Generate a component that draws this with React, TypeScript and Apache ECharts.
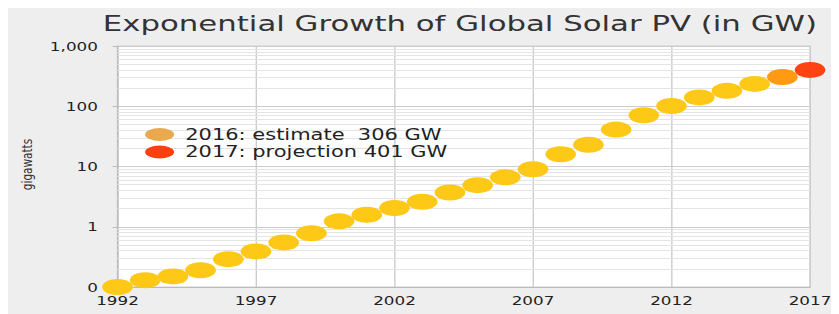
import React, { useEffect, useRef } from "react";
import * as echarts from "echarts";

// ---- data ----
const years = [
  "1992", "1993", "1994", "1995", "1996", "1997", "1998", "1999", "2000",
  "2001", "2002", "2003", "2004", "2005", "2006", "2007", "2008", "2009",
  "2010", "2011", "2012", "2013", "2014", "2015", "2016", "2017",
];
const installedGW = [
  0.1, 0.13, 0.15, 0.19, 0.29, 0.39, 0.55, 0.78, 1.23, 1.58, 2.05, 2.6, 3.7,
  4.9, 6.6, 9.0, 16, 23, 41, 71, 101, 140, 180, 235,
];
const estimateYear = "2016";
const estimateGW = 306;
const projectionYear = "2017";
const projectionGW = 401;
const minorGridValues = [
  0.2, 0.3, 0.4, 0.5, 0.6, 0.7, 0.8, 0.9,
  2, 3, 4, 5, 6, 7, 8, 9,
  20, 30, 40, 50, 60, 70, 80, 90,
  200, 300, 400, 500, 600, 700, 800, 900,
];
const titleText = "Exponential Growth of Global Solar PV (in GW)";
const yAxisName = "gigawatts";
const estimateLabel = "2016: estimate  306 GW";
const projectionLabel = "2017: projection 401 GW";

// ---- layout (chart is drawn narrow and stretched horizontally, like the reference) ----
const W = 594;
const H = 306;
const SX = 831 / W;
const FONT = "DejaVu Sans";
const ELLIPSE = "path://M0,5a10,5 0 1,0 20,0a10,5 0 1,0 -20,0z";

export default function App() {
  const ref = useRef<HTMLDivElement>(null);

  useEffect(() => {
    if (!ref.current) return;
    const chart = echarts.init(ref.current, undefined, { renderer: "svg" });
    chart.setOption({
      animation: false,
      backgroundColor: "#eeeeee",
      graphic: [
        {
          type: "text",
          x: 323,
          y: 15,
          style: {
            text: titleText,
            fontSize: 22,
            fontFamily: FONT,
            fill: "#333",
            textAlign: "center",
            textVerticalAlign: "middle",
            align: "center",
            verticalAlign: "middle",
          },
        },
      ],
      grid: {
        left: 71.5,
        right: 20.7,
        top: 38,
        bottom: 27,
        show: true,
        backgroundColor: "#ffffff",
        borderColor: "#cfcfcf",
        borderWidth: 1,
      },
      legend: {
        orient: "vertical",
        left: 93,
        top: 114,
        itemWidth: 20.7,
        itemHeight: 13,
        itemGap: 2.5,
        symbolKeepAspect: false,
        textStyle: {
          fontSize: 15,
          fontFamily: FONT,
          color: "#222",
          padding: [0, 0, 0, 3],
        },
        data: [
          { name: estimateLabel, icon: ELLIPSE, itemStyle: { color: "#eaa94e" } },
          { name: projectionLabel, icon: ELLIPSE, itemStyle: { color: "#ff3f0f" } },
        ],
      },
      xAxis: {
        type: "category",
        data: years,
        boundaryGap: false,
        axisLine: { show: true, lineStyle: { color: "#bbbbbb" } },
        axisTick: { show: false },
        axisLabel: {
          interval: 4,
          fontSize: 12,
          fontFamily: FONT,
          color: "#222",
          margin: 7,
        },
        splitLine: { show: true, interval: 4, lineStyle: { color: "#cccccc" } },
      },
      yAxis: {
        type: "log",
        logBase: 10,
        min: 0.1,
        max: 1000,
        name: yAxisName,
        nameLocation: "middle",
        nameGap: 57,
        nameTextStyle: {
          fontSize: 10.5,
          fontFamily: FONT,
          color: "#333",
          padding: [0, 0, 0, 4],
        },
        axisLine: { show: true, lineStyle: { color: "#bbbbbb" } },
        axisTick: { show: true, length: 3.5, lineStyle: { color: "#bbbbbb" } },
        axisLabel: {
          fontSize: 12,
          fontFamily: FONT,
          color: "#222",
          margin: 14,
          formatter: (v: number) =>
            v < 1 ? "0" : Math.round(v).toLocaleString("en-US"),
        },
        splitLine: { show: true, lineStyle: { color: "#cccccc" } },
      },
      series: [
        {
          name: "minor-grid",
          type: "line",
          data: [],
          z: 1,
          zlevel: 0,
          silent: true,
          markLine: {
            z: 1,
            silent: true,
            symbol: ["none", "none"],
            label: { show: false },
            lineStyle: { color: "#e4e4e4", type: "solid", width: 1 },
            data: minorGridValues.map((v) => ({ yAxis: v })),
          },
        },
        {
          name: "installed",
          type: "scatter",
          z: 3,
          clip: false,
          symbol: "circle",
          symbolSize: [22, 16],
          itemStyle: { color: "#fdc916", opacity: 1 },
          data: installedGW,
        },
        {
          name: estimateLabel,
          type: "scatter",
          z: 4,
          clip: false,
          symbol: "circle",
          symbolSize: [22, 16],
          itemStyle: { color: "#ff9a12", opacity: 1 },
          data: [[estimateYear, estimateGW]],
        },
        {
          name: projectionLabel,
          type: "scatter",
          z: 5,
          clip: false,
          symbol: "circle",
          symbolSize: [22, 16],
          itemStyle: { color: "#ff4412", opacity: 1 },
          data: [[projectionYear, projectionGW]],
        },
      ],
    });
    return () => chart.dispose();
  }, []);

  return (
    <div
      ref={ref}
      style={{
        width: W,
        height: H,
        transform: `scaleX(${SX})`,
        transformOrigin: "0 0",
      }}
    />
  );
}
